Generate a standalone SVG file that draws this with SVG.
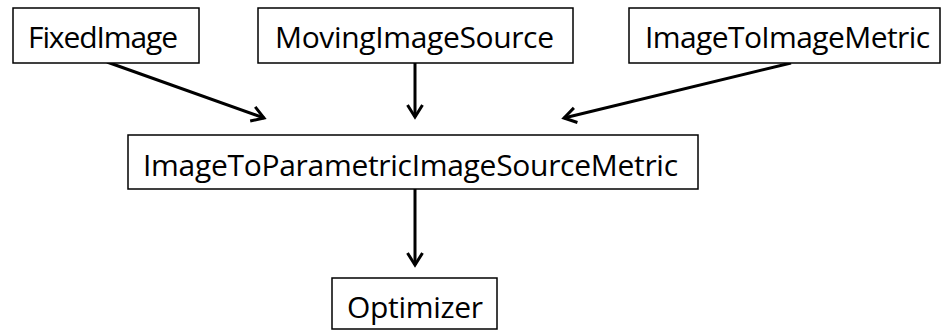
<svg xmlns="http://www.w3.org/2000/svg" width="942" height="331" viewBox="0 0 942 331">
  <style>
    .box { fill: #ffffff; stroke: #000000; stroke-width: 1.5; }
    .label { font-family: "Open Sans", "Liberation Sans", sans-serif; font-size: 30px; fill: #000000; }
    .edge { stroke: #000000; stroke-width: 3; fill: none; marker-end: url(#head); }
  </style>
  <defs>
    <marker id="head" markerUnits="userSpaceOnUse" markerWidth="30" markerHeight="30" refX="0" refY="0" viewBox="-15 -15 30 30" orient="auto" overflow="visible">
      <path d="M-12,-7.5 L0,0 L-12,7.5" fill="none" stroke="#000000" stroke-width="3" stroke-linejoin="miter"/>
    </marker>
  </defs>
  <rect width="942" height="331" fill="#ffffff"/>

  <g id="connectors">
    <line class="edge" x1="107" y1="62" x2="264" y2="118"/>
    <line class="edge" x1="415" y1="63" x2="415" y2="117"/>
    <line class="edge" x1="791" y1="63" x2="564" y2="118"/>
    <line class="edge" x1="415" y1="189" x2="415" y2="265"/>
  </g>

  <g id="fixed-image">
    <rect class="box" x="13" y="8" width="186" height="55"/>
    <text class="label" x="28" y="48" textLength="150">FixedImage</text>
  </g>

  <g id="moving-image-source">
    <rect class="box" x="258" y="8" width="315" height="55"/>
    <text class="label" x="275" y="48" textLength="279">MovingImageSource</text>
  </g>

  <g id="image-to-image-metric">
    <rect class="box" x="629" y="8" width="311" height="55"/>
    <text class="label" x="645" y="48" textLength="285">ImageToImageMetric</text>
  </g>

  <g id="image-to-parametric-image-source-metric">
    <rect class="box" x="128" y="135" width="570" height="54"/>
    <text class="label" x="143" y="176" textLength="535">ImageToParametricImageSourceMetric</text>
  </g>

  <g id="optimizer">
    <rect class="box" x="332" y="278" width="165" height="51"/>
    <text class="label" x="347" y="318" textLength="136">Optimizer</text>
  </g>
</svg>
